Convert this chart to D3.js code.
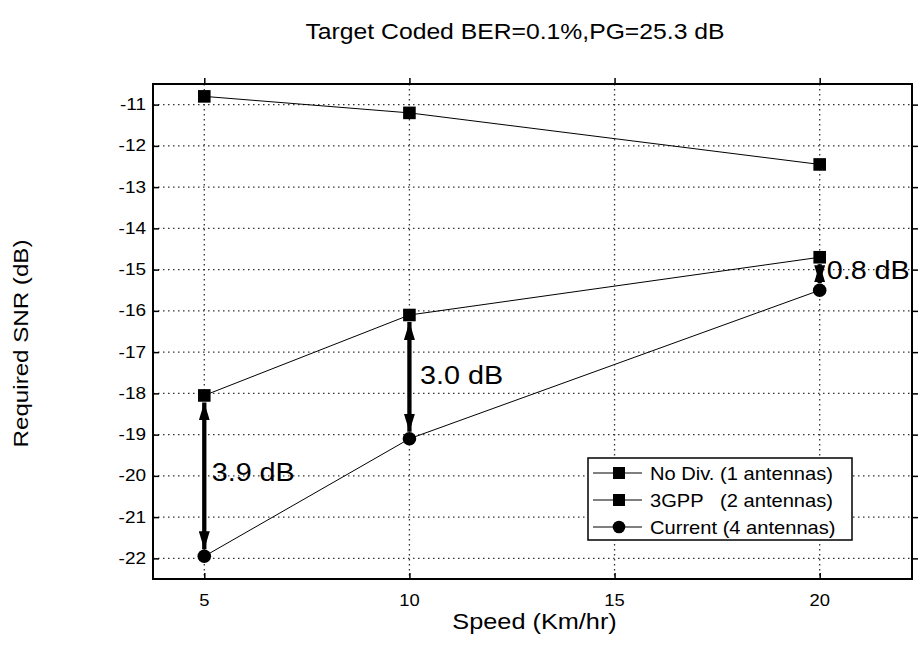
<!DOCTYPE html>
<html>
<head>
<meta charset="utf-8">
<script src="https://cdn.jsdelivr.net/npm/d3@7"></script>
<style>
  body { margin: 0; background: #fff; }
  svg text { font-family: "Liberation Sans", Arial, sans-serif; fill: #000; }
</style>
</head>
<body>
<div></div>
<script>
'use strict';

var speeds = [5, 10, 20];
var noDiv = [-10.8, -11.2, -12.45];
var gpp = [-18.05, -16.1, -14.7];
var current = [-21.95, -19.1, -15.5];
var seriesNames = ["No Div. (1 antennas)", "3GPP   (2 antennas)", "Current (4 antennas)"];
var seriesSymbols = ["square", "square", "circle"];
var xTicks = [5, 10, 15, 20];
var yTicks = [-11, -12, -13, -14, -15, -16, -17, -18, -19, -20, -21, -22];
var gapLabels = ["3.9 dB", "3.0 dB", "0.8 dB"];
var gapLabelPos = [[5.18, -19.9], [10.26, -17.55], [20.17, -15.0]];

var svgWidth = 920;
var svgHeight = 645;
var margin = {top: 84, right: 8, bottom: 66, left: 153};
var chartWidth = svgWidth - margin.left - margin.right;
var chartHeight = svgHeight - margin.top - margin.bottom;
var stretch = 1.15; // text in the picture is drawn a bit wide

var xScale = d3.scaleLinear().domain([3.75, 22.25]).range([0, chartWidth]);
var yScale = d3.scaleLinear().domain([-22.5, -10.5]).range([chartHeight, 0]);

var svg = d3.select("body").select("div").append("svg")
    .attr("width", svgWidth)
    .attr("height", svgHeight);

// wide text helper
function wideText(parent, x, y, str, size, anchor, rotate) {
  return parent.append("text")
      .attr("transform", "translate(" + x + "," + y + ")" +
            (rotate ? " rotate(" + rotate + ")" : "") + " scale(" + stretch + ",1)")
      .attr("text-anchor", anchor || "start")
      .attr("xml:space", "preserve")
      .style("font-size", size + "px")
      .text(str);
}

svg.append("defs").append("marker")
    .attr("id", "head")
    .attr("viewBox", "0 0 18 11")
    .attr("refX", 18)
    .attr("refY", 5.5)
    .attr("markerUnits", "userSpaceOnUse")
    .attr("markerWidth", 18)
    .attr("markerHeight", 11)
    .attr("orient", "auto-start-reverse")
  .append("path")
    .attr("d", "M0,0 L18,5.5 L0,11 Z")
    .attr("fill", "#000");

var chart = svg.append("g")
    .attr("transform", "translate(" + margin.left + "," + margin.top + ")");

// grid
chart.append("g").selectAll("line")
    .data(yTicks).enter().append("line")
    .attr("x1", 0).attr("x2", chartWidth)
    .attr("y1", function(d) { return yScale(d); })
    .attr("y2", function(d) { return yScale(d); })
    .attr("stroke", "#333").attr("stroke-width", 1.3)
    .attr("stroke-dasharray", "1.5,3.5");

chart.append("g").selectAll("line")
    .data(xTicks).enter().append("line")
    .attr("y1", 0).attr("y2", chartHeight)
    .attr("x1", function(d) { return xScale(d); })
    .attr("x2", function(d) { return xScale(d); })
    .attr("stroke", "#333").attr("stroke-width", 1.3)
    .attr("stroke-dasharray", "1.5,3.5");

// axes with inward ticks
var xMinor = d3.range(5, 22.5, 2.5);
var yMinor = d3.range(-22.5, -10.4, 0.5);

function xAxisG(axisFn, ty) {
  var g = chart.append("g").attr("transform", "translate(0," + ty + ")");
  g.call(axisFn(xScale).tickValues(xMinor).tickSize(-3 * (ty === 0 ? -1 : 1)).tickFormat(""));
  g.call(axisFn(xScale).tickValues(xTicks).tickSize(-6 * (ty === 0 ? -1 : 1)).tickFormat(""));
  g.select(".domain").remove();
  g.selectAll("line").attr("stroke", "#000").attr("stroke-width", 1.5);
  return g;
}
function yAxisG(axisFn, tx) {
  var g = chart.append("g").attr("transform", "translate(" + tx + ",0)");
  g.call(axisFn(yScale).tickValues(yMinor).tickSize(-3 * (tx === 0 ? 1 : -1)).tickFormat(""));
  g.call(axisFn(yScale).tickValues(yTicks).tickSize(-6 * (tx === 0 ? 1 : -1)).tickFormat(""));
  g.select(".domain").remove();
  g.selectAll("line").attr("stroke", "#000").attr("stroke-width", 1.5);
  return g;
}
xAxisG(d3.axisBottom, chartHeight);
xAxisG(d3.axisTop, 0);
yAxisG(d3.axisLeft, 0);
yAxisG(d3.axisRight, chartWidth);

chart.append("rect")
    .attr("width", chartWidth).attr("height", chartHeight)
    .attr("fill", "none").attr("stroke", "#000").attr("stroke-width", 2);

// tick labels
xTicks.forEach(function(d) {
  wideText(chart, xScale(d), chartHeight + 27, String(d), 16, "middle");
});
yTicks.forEach(function(d) {
  wideText(chart, -7, yScale(d) + 5.5, String(d), 16.5, "end");
});

// axis titles
wideText(chart, xScale(13.05), chartHeight + 50, "Speed (Km/hr)", 22, "middle");
wideText(svg, 28, margin.top + chartHeight / 2 + 12, "Required SNR (dB)", 21, "middle", -90);
wideText(svg, 515, 39, "Target Coded BER=0.1%,PG=25.3 dB", 21.5, "middle");

// series
var series = [noDiv, gpp, current];
var line = d3.line()
    .x(function(d, i) { return xScale(speeds[i]); })
    .y(function(d) { return yScale(d); });

series.forEach(function(vals) {
  chart.append("path").datum(vals)
      .attr("fill", "none").attr("stroke", "#000").attr("stroke-width", 1)
      .attr("d", line);
});

// gap arrows
speeds.forEach(function(s, i) {
  chart.append("line")
      .attr("x1", xScale(s)).attr("x2", xScale(s))
      .attr("y1", yScale(gpp[i]) + 7).attr("y2", yScale(current[i]) - 7)
      .attr("stroke", "#000").attr("stroke-width", 4.3)
      .attr("marker-start", "url(#head)")
      .attr("marker-end", "url(#head)");
});

series.forEach(function(vals, k) {
  var g = chart.append("g");
  if (seriesSymbols[k] === "square") {
    g.selectAll("rect").data(vals).enter().append("rect")
        .attr("x", function(d, i) { return xScale(speeds[i]) - 6.3; })
        .attr("y", function(d) { return yScale(d) - 6.3; })
        .attr("width", 12.6).attr("height", 12.6).attr("fill", "#000");
  } else {
    g.selectAll("circle").data(vals).enter().append("circle")
        .attr("cx", function(d, i) { return xScale(speeds[i]); })
        .attr("cy", function(d) { return yScale(d); })
        .attr("r", 6.8).attr("fill", "#000");
  }
});

gapLabels.forEach(function(d, i) {
  wideText(chart, xScale(gapLabelPos[i][0]), yScale(gapLabelPos[i][1]) + 9, d, 25, "start");
});

// legend
var legend = svg.append("g").attr("transform", "translate(588,458)");
legend.append("rect")
    .attr("width", 264).attr("height", 82)
    .attr("fill", "#fff").attr("stroke", "#000").attr("stroke-width", 1.5);

var rows = legend.selectAll("g.row").data(seriesNames).enter().append("g")
    .attr("transform", function(d, i) { return "translate(0," + (15 + i * 27) + ")"; });
rows.append("line")
    .attr("x1", 5).attr("x2", 54).attr("y1", 0).attr("y2", 0)
    .attr("stroke", "#000").attr("stroke-width", 1);
rows.each(function(d, i) {
  var r = d3.select(this);
  if (seriesSymbols[i] === "square") {
    r.append("rect").attr("x", 25).attr("y", -6).attr("width", 12).attr("height", 12).attr("fill", "#000");
  } else {
    r.append("circle").attr("cx", 31).attr("cy", 0).attr("r", 6.3).attr("fill", "#000");
  }
  wideText(r, 62, 6.5, d, 17.5, "start");
});
</script>
</body>
</html>
